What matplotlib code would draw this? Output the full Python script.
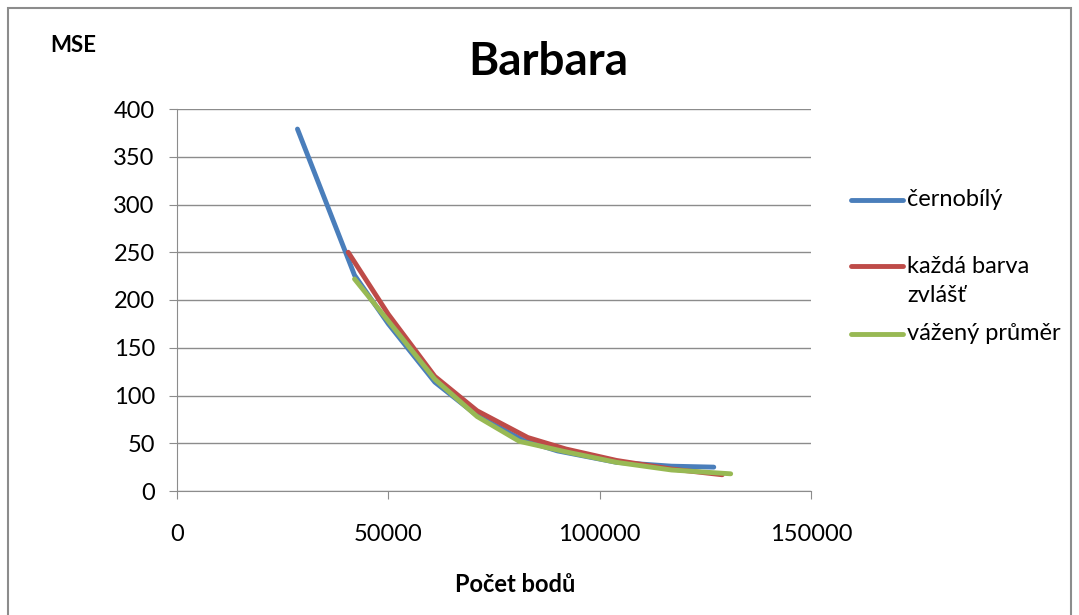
import matplotlib.pyplot as plt
from matplotlib.patches import Rectangle

# data
bw_x = [28500, 42000, 50000, 61000, 71000, 82000, 90000, 104000, 117000, 127000]
bw_y = [379, 226, 175, 114, 79, 53, 42, 30, 26, 25]
sep_x = [40500, 50000, 61000, 71000, 83000, 92000, 104000, 117000, 129000]
sep_y = [250, 185, 120, 84, 56, 44, 32, 23, 17]
avg_x = [42000, 50000, 61000, 71000, 81000, 92000, 104000, 117000, 131000]
avg_y = [222, 178, 117, 78, 52, 41, 30, 22, 18]
labels = ["černobílý", "každá barva\nzvlášť", "vážený průměr"]

plt.rcParams['font.family'] = ['Lato', 'DejaVu Sans']

fig = plt.figure(figsize=(10.79, 6.15), dpi=100)
fig.patches.append(Rectangle((8/1079, -0.05), (1071-8)/1079, 1.05 - 8/615,
                             transform=fig.transFigure, fill=False,
                             edgecolor='#8c8c8c', linewidth=1.5))
ax = fig.add_axes([177/1079, 1 - 491/615, (811-177)/1079, (491-109)/615])

l1, = ax.plot(bw_x, bw_y, color='#4a7ebb', lw=3.5, solid_capstyle='round')
l2, = ax.plot(sep_x, sep_y, color='#be4b48', lw=3.5, solid_capstyle='round')
l3, = ax.plot(avg_x, avg_y, color='#98b954', lw=3.5, solid_capstyle='round')

ax.set_xlim(0, 150000)
ax.set_ylim(0, 400)
ax.set_xticks([0, 50000, 100000, 150000])
ax.set_yticks(range(0, 401, 50))
ax.grid(axis='y', color='#8c8c8c', lw=1)
ax.set_axisbelow(True)
for s in ['top', 'right']:
    ax.spines[s].set_visible(False)
for s in ['left', 'bottom']:
    ax.spines[s].set_color('#8c8c8c')
ax.tick_params(axis='both', colors='#8c8c8c', labelcolor='black', labelsize=17, length=6)
ax.tick_params(axis='x', pad=18)
ax.tick_params(axis='y', pad=10)

fig.text(548/1079, 1 - 62/615, "Barbara", ha='center', va='center', fontsize=33, fontweight='bold')
fig.text(73/1079, 1 - 45/615, "MSE", ha='center', va='center', fontsize=16, fontweight='bold')
fig.text(515/1079, 1 - 585/615, "Počet bodů", ha='center', va='center', fontsize=17, fontweight='bold')

# legend drawn by hand to match the spacing
leg_y = [200, 266, 334]
for line, lab, yy in zip([l1, l2, l3], labels, leg_y):
    fig.add_artist(plt.Line2D([851/1079, 903/1079], [1 - yy/615] * 2, color=line.get_color(),
                              lw=3.5, solid_capstyle='round', transform=fig.transFigure))
    if '\n' in lab:
        fig.text(907/1079, 1 - (yy - 10)/615, lab, ha='left', va='top', fontsize=17, linespacing=1.45)
    else:
        fig.text(907/1079, 1 - yy/615, lab, ha='left', va='center', fontsize=17)

fig.savefig('out.png', dpi=100)
